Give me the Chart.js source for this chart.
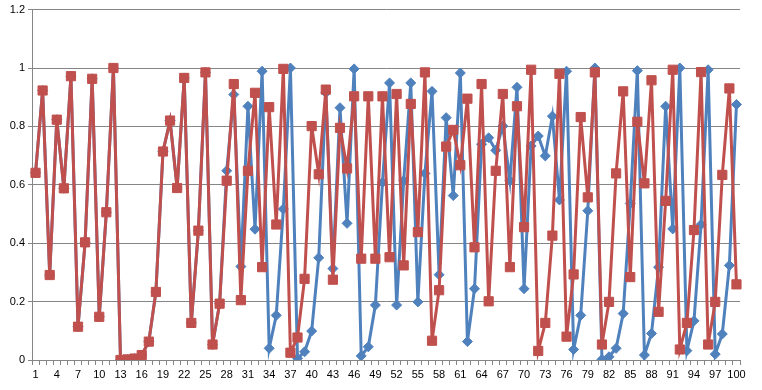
<!DOCTYPE html>
<html>
<head>
<meta charset="utf-8">
<script src="https://cdn.jsdelivr.net/npm/chart.js@4/dist/chart.umd.min.js"></script>
<style>
  html, body { margin: 0; padding: 0; background: #fff; }
</style>
</head>
<body>
<canvas id="canvas" width="762" height="390"></canvas>
<script>
// categories 1..100
const categories = [
  "1","2","3","4","5","6","7","8","9","10",
  "11","12","13","14","15","16","17","18","19","20",
  "21","22","23","24","25","26","27","28","29","30",
  "31","32","33","34","35","36","37","38","39","40",
  "41","42","43","44","45","46","47","48","49","50",
  "51","52","53","54","55","56","57","58","59","60",
  "61","62","63","64","65","66","67","68","69","70",
  "71","72","73","74","75","76","77","78","79","80",
  "81","82","83","84","85","86","87","88","89","90",
  "91","92","93","94","95","96","97","98","99","100"
];

// blue series (hidden under red for the first 27 points)
const blueValues = [
  0.641, 0.923, 0.291, 0.823, 0.588, 0.972, 0.114, 0.403, 0.963, 0.148,
  0.506, 1.000, 0.000, 0.002, 0.005, 0.017, 0.063, 0.233, 0.714, 0.820,
  0.589, 0.966, 0.127, 0.443, 0.985, 0.053, 0.193, 0.648, 0.909, 0.320,
  0.869, 0.448, 0.989, 0.040, 0.153, 0.517, 1.000, 0.006, 0.028, 0.099,
  0.350, 0.915, 0.313, 0.864, 0.468, 0.997, 0.014, 0.045, 0.188, 0.608,
  0.949, 0.188, 0.614, 0.949, 0.199, 0.639, 0.920, 0.292, 0.830, 0.563,
  0.983, 0.063, 0.244, 0.739, 0.761, 0.718, 0.801, 0.614, 0.934, 0.244,
  0.733, 0.767, 0.699, 0.835, 0.548, 0.989, 0.036, 0.153, 0.511, 1.000,
  0.002, 0.011, 0.040, 0.159, 0.536, 0.991, 0.017, 0.091, 0.318, 0.869,
  0.449, 1.000, 0.032, 0.134, 0.464, 0.994, 0.020, 0.089, 0.324, 0.875
];

// red series
const redValues = [
  0.641, 0.923, 0.291, 0.823, 0.588, 0.972, 0.114, 0.403, 0.963, 0.148,
  0.506, 1.000, 0.000, 0.002, 0.005, 0.017, 0.063, 0.233, 0.714, 0.820,
  0.589, 0.966, 0.127, 0.443, 0.985, 0.053, 0.193, 0.614, 0.945, 0.205,
  0.648, 0.915, 0.318, 0.866, 0.464, 0.997, 0.025, 0.077, 0.278, 0.801,
  0.636, 0.926, 0.275, 0.795, 0.656, 0.903, 0.347, 0.903, 0.347, 0.903,
  0.352, 0.911, 0.324, 0.877, 0.438, 0.985, 0.066, 0.239, 0.731, 0.788,
  0.667, 0.895, 0.386, 0.945, 0.201, 0.648, 0.911, 0.318, 0.869, 0.455,
  0.994, 0.031, 0.127, 0.426, 0.980, 0.080, 0.293, 0.832, 0.557, 0.985,
  0.053, 0.199, 0.639, 0.920, 0.284, 0.816, 0.605, 0.958, 0.165, 0.545,
  0.994, 0.036, 0.127, 0.445, 0.986, 0.053, 0.199, 0.634, 0.930, 0.259
];

const yTicks = { min: 0, max: 1.2, step: 0.2 };

const gridColor = "#868686";
const labelFont = { family: "Liberation Sans", size: 11 };

const canvas = document.querySelector("#canvas");
const chart = new Chart(canvas, {
  type: "line",
  data: {
    labels: categories,
    datasets: [
      {
        label: "Series1",
        data: blueValues,
        borderColor: "#4F81BD",
        backgroundColor: "#4F81BD",
        borderWidth: 3,
        pointStyle: "rectRot",
        pointRadius: 5,
        pointBorderWidth: 1,
        pointBorderColor: "#4F81BD",
        pointBackgroundColor: "#4F81BD",
        tension: 0,
        order: 2,
      },
      {
        label: "Series2",
        data: redValues,
        borderColor: "#C0504D",
        backgroundColor: "#C0504D",
        borderWidth: 3,
        pointStyle: "rect",
        pointRadius: 6.5,
        pointBorderWidth: 1,
        pointBorderColor: "#C0504D",
        pointBackgroundColor: "#C0504D",
        tension: 0,
        order: 1,
      },
    ],
  },
  options: {
    responsive: false,
    animation: false,
    layout: { padding: { top: 8, right: 22, left: 0, bottom: 0 } },
    plugins: {
      legend: { display: false },
      tooltip: { enabled: false },
    },
    scales: {
      x: {
        offset: true,
        grid: {
          display: true,
          drawOnChartArea: false,
          drawTicks: true,
          tickLength: 5,
          offset: true,
          color: gridColor,
        },
        border: { color: gridColor },
        ticks: {
          autoSkip: false,
          maxRotation: 0,
          minRotation: 0,
          padding: 3,
          color: "#000",
          font: labelFont,
          callback: function (val, idx) {
            return idx % 3 === 0 ? this.getLabelForValue(val) : "";
          },
        },
        afterFit: function (scale) { scale.height = 30; },
      },
      y: {
        min: yTicks.min,
        max: yTicks.max,
        grid: { color: gridColor, tickLength: 4 },
        border: { color: gridColor },
        ticks: {
          stepSize: yTicks.step,
          padding: 3,
          color: "#000",
          font: labelFont,
          // excel style: 0, 0.2 ... 1, 1.2
          callback: (val) => String(Math.round(val * 10) / 10),
        },
        afterFit: function (scale) { scale.width = 32; },
      },
    },
  },
});
</script>
</body>
</html>
